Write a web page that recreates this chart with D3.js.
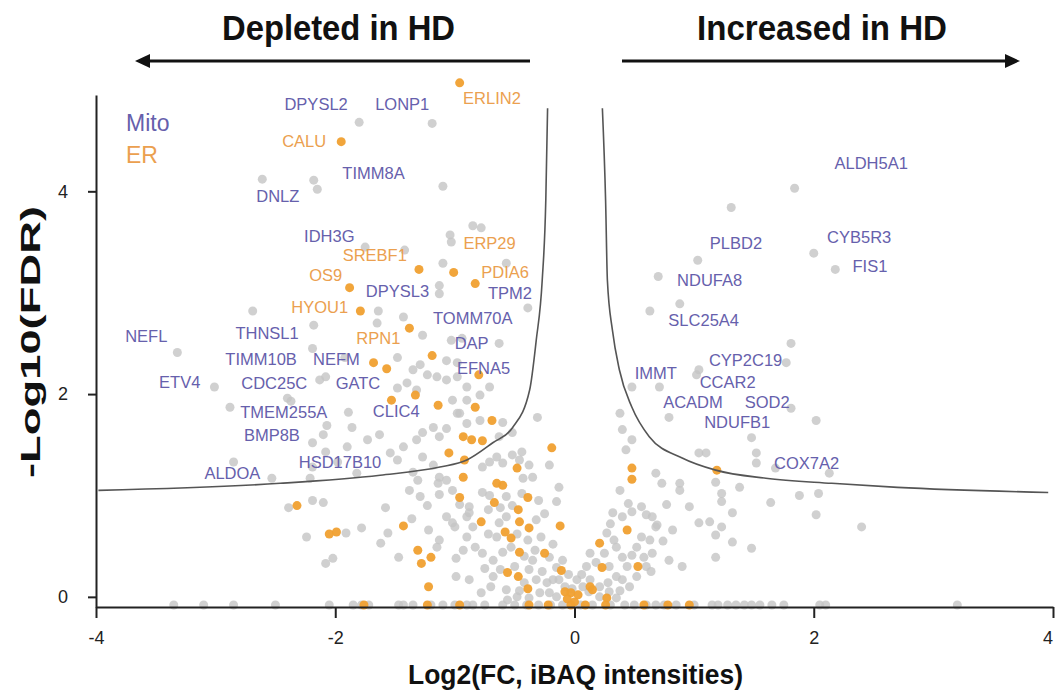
<!DOCTYPE html>
<html>
<head>
<meta charset="utf-8">
<script src="https://cdn.jsdelivr.net/npm/d3@7"></script>
<style>
  body { margin: 0; background: #fff; }
  text { font-family: "Liberation Sans", Arial, sans-serif; }
</style>
</head>
<body>
<div id="chart"></div>
<script>
// ---- data (log2 FC, -log10 FDR) ----
var xTicks = [-4, -2, 0, 2, 4];
var yTicks = [0, 2, 4];

// proteins not in the two highlighted groups
var grayPts = [
  [-1.80,4.68],[-1.19,4.67],[-1.10,4.05],[-2.61,4.12],[-2.18,4.11],[-2.15,4.02],
  [-0.85,3.66],[-0.78,3.64],[-1.04,3.57],[-1.03,3.50],[-1.10,3.29],[-0.57,3.29],
  [-1.42,3.42],[-1.75,3.45],[-1.13,3.07],[-0.39,2.85],[-1.13,2.99],[-1.64,2.82],
  [-1.43,2.76],[-1.65,2.70],[-2.69,2.82],[-2.18,2.68],[-1.27,2.58],[-1.03,2.53],
  [-0.94,2.55],[-0.63,2.50],[-2.19,2.45],[-1.48,2.36],[-1.92,2.36],[-1.07,2.33],
  [-0.98,2.31],[-1.29,2.29],[-1.35,2.24],[-2.08,2.17],[-2.13,2.14],[-1.23,2.19],
  [-1.15,2.17],[-1.07,2.14],[-0.98,2.17],[-1.48,2.06],[-1.40,2.11],[-1.32,2.04],
  [-0.90,2.07],[-0.79,1.99],[-0.71,2.07],[-1.02,1.94],[-0.96,1.81],[-1.89,1.82],
  [-2.40,1.96],[-2.37,1.93],[-2.88,1.87],[-3.01,2.07],[-3.32,2.41],[-2.07,1.69],
  [-1.86,1.67],[-2.10,1.60],[-1.63,1.60],[-1.73,1.55],[-2.19,1.52],[-2.08,1.43],
  [-1.90,1.48],[-1.32,1.55],[-1.27,1.62],[-1.18,1.67],[-1.13,1.58],[-1.07,1.66],
  [-1.43,1.48],[-1.54,1.42],[-1.98,1.33],[-2.19,1.28],[-1.82,1.22],[-1.48,1.35],
  [-1.27,1.38],[-1.18,1.30],[-1.13,1.18],[-1.07,1.15],[-1.35,1.23],[-1.31,1.15],
  [-0.90,1.71],[-0.79,1.74],[-0.52,1.62],[-0.63,1.58],[-0.31,1.77],[-2.85,1.33],
  [-2.21,1.17],[-2.53,1.17],[-0.90,1.94],[-0.98,1.81],[-0.60,1.72],
  [-0.65,1.38],[-0.71,1.33],[-0.60,1.32],[-0.77,1.28],[-0.44,1.43],[-0.52,1.40],
  [-0.46,1.35],[-0.38,1.30],[-0.35,1.18],[-0.43,1.17],[-0.21,1.30],[-0.13,1.08],
  [-0.15,0.94],[-1.02,1.05],[-0.96,0.91],[-0.88,0.89],[-0.90,0.79],[-0.77,1.03],
  [-0.71,1.00],[-0.57,0.99],[-1.00,0.69],[-0.90,0.59],[-0.83,0.49],[-0.77,0.43],
  [-0.68,0.36],[-0.93,0.46],[-0.65,0.59],[-0.63,0.73],[-0.57,0.79],[-0.53,0.49],
  [-0.39,0.56],[-0.32,0.76],[-0.28,0.59],[-0.21,0.39],[-0.35,0.36],[-0.27,0.25],
  [-0.15,0.29],[-0.18,0.17],[-0.23,0.14],[-0.32,0.17],[-0.68,0.20],[-0.57,0.07],
  [-0.50,0.30],[-0.42,0.14],[-0.88,0.17],[-0.78,0.04],[-0.13,0.17],[-0.08,0.10],
  [-0.21,0.04],[-0.15,0.00],[-0.29,0.04],[-0.38,-0.01],[-0.48,0.00],[-0.56,-0.03],
  [-2.39,0.88],[-2.19,0.95],[-2.10,0.93],[-2.24,0.59],[-1.91,0.63],[-1.78,0.68],
  [-2.08,0.33],[-2.02,0.38],[-1.62,0.53],[-1.56,0.63],[-1.58,0.88],[-1.47,0.39],
  [-1.36,0.77],[-1.38,1.05],[-1.29,0.99],[-1.23,0.90],[-1.22,0.66],[-1.14,1.12],
  [-1.13,1.01],[-1.13,0.56],[-1.15,0.49],[-0.99,0.38],[-0.99,0.20],[-1.07,0.79],
  [-1.02,0.73],[-0.88,0.83],[-0.85,0.69],
  [-0.72,0.86],[-0.62,0.88],[-0.52,0.90],[-0.44,1.02],[-0.30,0.95],[-0.25,0.82],
  [-0.72,0.62],[-0.60,0.44],[-0.48,0.62],[-0.42,0.40],[-0.33,0.46],[-0.18,0.52],
  [-0.75,0.28],[-0.62,0.27],[-0.38,0.27],[-0.10,0.36],[-0.05,0.22],[-0.70,0.10],
  [-0.46,0.06],[-0.02,0.08],[0.10,0.30],[0.25,0.43],[0.44,0.30],[0.58,0.39],
  [0.74,0.55],[0.82,0.66],[0.45,0.92],[0.30,0.72],[0.12,0.05],[0.38,0.06],
  [1.84,4.03],[1.31,3.84],[1.03,3.32],[2.00,3.39],[2.18,3.23],[0.70,3.16],
  [0.63,2.82],[0.88,2.89],[1.81,2.50],[1.77,2.31],[1.04,2.24],[1.02,2.19],
  [0.71,2.07],[1.81,1.86],[0.79,1.77],[2.02,1.74],[0.48,2.07],[0.38,1.81],
  [1.48,1.57],[0.40,1.65],[0.48,1.55],[0.43,1.45],[1.04,1.42],[1.10,1.42],
  [1.52,1.42],[1.52,1.32],[0.68,1.22],[0.73,1.12],[0.88,1.12],[0.88,1.05],
  [1.23,1.02],[0.38,1.05],[1.38,1.08],[1.88,1.00],[2.04,1.02],[1.68,1.27],
  [2.13,1.22],[1.18,1.13],[1.23,0.94],[1.64,0.93],[1.32,0.83],[2.02,0.81],
  [2.40,0.69],[1.13,0.74],[1.23,0.69],[1.18,0.61],[1.32,0.54],[1.48,0.48],
  [1.18,0.39],[0.68,0.69],[0.77,0.91],[0.96,0.89],[1.04,0.73],[0.32,0.83],
  [0.40,0.79],[0.48,0.84],[0.56,0.89],[0.60,0.81],[0.65,0.79],[0.69,0.71],
  [0.56,0.59],[0.52,0.49],[0.63,0.56],[0.65,0.43],[0.60,0.30],[0.64,0.25],
  [0.27,0.63],[0.33,0.56],[0.35,0.49],[0.40,0.39],[0.48,0.41],[0.13,0.43],
  [0.18,0.34],[0.29,0.30],[0.35,0.20],[0.40,0.17],[0.28,0.14],[0.21,0.10],
  [0.13,0.17],[0.02,0.17],[0.07,0.10],[0.06,0.22],[0.29,0.05],[0.21,0.00],
  [0.35,-0.01],[0.52,0.20],[0.46,0.10],[0.79,0.36],[0.90,0.30]
];

// ER proteins
var erPts = [
  [-0.96,5.07],[-1.95,4.49],[-1.88,3.05],[-1.30,3.23],[-1.01,3.20],[-0.83,3.09],
  [-1.79,2.82],[-1.38,2.65],[-1.68,2.31],[-1.57,2.25],[-1.19,2.38],[-0.80,2.19],
  [-1.53,1.94],[-1.33,1.99],[-1.14,1.89],[-0.83,1.87],[-0.69,1.74],[-0.93,1.58],
  [-0.86,1.55],[-0.77,1.54],[-1.05,1.42],[-0.92,1.35],[-0.48,1.27],[-0.19,1.47],
  [-0.93,1.18],[-0.65,1.12],[-0.60,1.10],[-2.32,0.90],[-2.05,0.62],[-1.99,0.64],
  [-1.43,0.70],[-1.31,0.46],[-1.20,0.39],[-1.28,0.33],[-1.22,0.10],[-0.96,0.98],
  [-0.78,0.74],[-0.67,0.93],[-0.39,0.98],[-0.47,0.86],[-0.12,0.70],[-0.46,0.74],
  [-0.38,0.68],[-0.58,0.64],[-0.53,0.58],[-0.46,0.44],[-0.25,0.43],[0.48,1.27],
  [0.48,1.16],[1.19,1.25],[0.44,0.66],[0.21,0.53],[0.53,0.30],[0.23,0.29],
  [-0.11,0.26],[-0.56,0.24],[-0.47,0.20],[-0.39,0.08],[-0.08,0.05],[-0.03,0.04],
  [0.03,0.02],[0.13,0.10],[0.15,0.07],[0.27,-0.01],[-0.06,-0.02],[0.00,-0.05]
];

// proteins sitting on the floor of the plot
var floorY = -0.08;
var floorGrayX = [-3.35,-3.1,-2.85,-2.5,-2.05,-1.85,-1.78,-1.72,-1.47,-1.43,-1.35,
  -1.2,-1.1,-1.0,-0.9,-0.85,-0.75,-0.6,-0.5,-0.4,-0.3,-0.2,-0.1,0.05,0.15,0.3,0.42,
  0.5,0.6,0.68,0.75,0.85,1.0,1.15,1.2,1.28,1.35,1.42,1.48,1.55,1.65,1.75,2.05,2.1,3.2];
var floorErX = [-1.76,-1.23,-0.96,-0.38,-0.22,-0.03,0.09,0.26,0.58,0.78,0.96];

// labels (text centre in data units)
var mitoNames = ["DPYSL2","LONP1","TIMM8A","DNLZ","IDH3G","DPYSL3","TPM2","TOMM70A","DAP",
  "EFNA5","NEFL","THNSL1","TIMM10B","NEFM","ETV4","CDC25C","GATC","TMEM255A","CLIC4",
  "BMP8B","HSD17B10","ALDOA","ALDH5A1","PLBD2","CYB5R3","FIS1","NDUFA8","SLC25A4",
  "IMMT","CYP2C19","CCAR2","ACADM","SOD2","NDUFB1","COX7A2"];
var mitoLX = [-2.16,-1.44,-1.68,-2.48,-2.05,-1.48,-0.54,-0.85,-0.86,
  -0.76,-3.58,-2.57,-2.62,-1.99,-3.30,-2.51,-1.81,-2.43,-1.49,
  -2.53,-1.96,-2.86,2.48,1.35,2.38,2.47,1.13,1.08,
  0.68,1.43,1.28,0.99,1.61,1.36,1.94];
var mitoLY = [4.86,4.86,4.18,3.95,3.56,3.02,3.00,2.75,2.50,
  2.26,2.57,2.60,2.35,2.35,2.12,2.11,2.11,1.82,1.83,
  1.60,1.33,1.22,4.28,3.49,3.55,3.26,3.13,2.73,
  2.21,2.34,2.12,1.92,1.92,1.72,1.32];

var erNames = ["ERLIN2","CALU","SREBF1","OS9","ERP29","PDIA6","HYOU1","RPN1"];
var erLX = [-0.69,-2.26,-1.67,-2.08,-0.71,-0.58,-2.13,-1.64];
var erLY = [4.92,4.50,3.37,3.17,3.49,3.20,2.86,2.55];

// significance cut-off curves
var leftCurve = [[-3.98,1.05],[-2.46,1.12],[-1.625,1.20],[-1.125,1.28],[-0.9,1.35],
  [-0.683,1.52],[-0.517,1.67],[-0.375,2.04],[-0.32,2.53],[-0.27,3.12],[-0.24,3.91],[-0.225,4.82]];
var rightCurve = [[0.233,4.82],[0.26,3.91],[0.275,3.12],[0.317,2.63],[0.375,2.24],
  [0.48,1.87],[0.625,1.58],[0.9,1.37],[1.18,1.25],[1.6,1.17],[2.15,1.12],[2.7,1.08],[3.96,1.03]];

// ---- drawing ----
var width = 1057, height = 693;
var gray = "#c4c4c4", orange = "#f0a030";
var purpleText = "#6660ac", orangeText = "#eba04f";

var svg = d3.select("#chart").append("svg")
  .attr("width", width).attr("height", height)
  .style("background", "#fff");

var x = d3.scaleLinear().domain([-4, 4]).range([96, 1053]);
var y = d3.scaleLinear().domain([-0.1, 4.95]).range([607, 95]);

// points
svg.append("g").selectAll("circle").data(grayPts).join("circle")
  .attr("cx", function(d) { return x(d[0]); })
  .attr("cy", function(d) { return y(d[1]); })
  .attr("r", 4.5).attr("fill", gray).attr("fill-opacity", 0.8);

svg.append("g").selectAll("circle").data(floorGrayX).join("circle")
  .attr("cx", function(d) { return x(d); })
  .attr("cy", y(floorY))
  .attr("r", 4.5).attr("fill", gray).attr("fill-opacity", 0.8);

svg.append("g").selectAll("circle").data(erPts).join("circle")
  .attr("cx", function(d) { return x(d[0]); })
  .attr("cy", function(d) { return y(d[1]); })
  .attr("r", 4.5).attr("fill", orange).attr("fill-opacity", 0.95);

svg.append("g").selectAll("circle").data(floorErX).join("circle")
  .attr("cx", function(d) { return x(d); })
  .attr("cy", y(floorY))
  .attr("r", 4.5).attr("fill", orange).attr("fill-opacity", 0.95);

// cut-off curves
var line = d3.line()
  .x(function(d) { return x(d[0]); })
  .y(function(d) { return y(d[1]); })
  .curve(d3.curveMonotoneX);

[leftCurve, rightCurve].forEach(function(c) {
  svg.append("path").attr("d", line(c))
    .attr("fill", "none").attr("stroke", "#555").attr("stroke-width", 1.6);
});

// axes, plain hyphen minus like the original
var plain = function(d) { return String(d); };
var xAxis = svg.append("g").attr("transform", "translate(0,607)")
  .call(d3.axisBottom(x).tickValues(xTicks).tickSize(11).tickSizeOuter(0)
    .tickFormat(plain).tickPadding(13));
var yAxis = svg.append("g").attr("transform", "translate(96,0)")
  .call(d3.axisLeft(y).tickValues(yTicks).tickSize(8).tickSizeOuter(0)
    .tickFormat(plain).tickPadding(20));

[xAxis, yAxis].forEach(function(a) {
  a.select(".domain").attr("stroke", "#222").attr("stroke-width", 2);
  a.selectAll(".tick line").attr("stroke", "#222").attr("stroke-width", 2);
  a.selectAll(".tick text").attr("fill", "#222")
    .style("font-family", "'Liberation Sans', Arial, sans-serif").style("font-size", "18px");
});
// the last x label hugs the right edge
xAxis.selectAll(".tick text").filter(function(d) { return d === 4; }).attr("dx", "-0.3em");

// labels
svg.append("g").selectAll("text").data(mitoNames).join("text")
  .attr("x", function(d, i) { return x(mitoLX[i]); })
  .attr("y", function(d, i) { return y(mitoLY[i]); })
  .attr("text-anchor", "middle").attr("dominant-baseline", "central")
  .attr("fill", purpleText).style("font-size", "16.5px")
  .text(function(d) { return d; });

svg.append("g").selectAll("text").data(erNames).join("text")
  .attr("x", function(d, i) { return x(erLX[i]); })
  .attr("y", function(d, i) { return y(erLY[i]); })
  .attr("text-anchor", "middle").attr("dominant-baseline", "central")
  .attr("fill", orangeText).style("font-size", "16.5px")
  .text(function(d) { return d; });

// legend
svg.append("text").attr("x", 126).attr("y", 131).attr("fill", purpleText)
  .style("font-size", "23px").text("Mito");
svg.append("text").attr("x", 126).attr("y", 163).attr("fill", orangeText)
  .style("font-size", "23px").text("ER");

// direction arrows and titles
function arrow(x1, x2, yy) {
  var dir = x2 > x1 ? 1 : -1;
  svg.append("line").attr("x1", x1).attr("x2", x2 - dir * 10).attr("y1", yy).attr("y2", yy)
    .attr("stroke", "#111").attr("stroke-width", 3);
  svg.append("path")
    .attr("d", "M" + x2 + "," + yy + "L" + (x2 - dir * 15) + "," + (yy - 7) +
      "L" + (x2 - dir * 15) + "," + (yy + 7) + "Z")
    .attr("fill", "#111");
}
arrow(530, 135, 61);
arrow(622, 1020, 61);

svg.append("text").attr("x", 222).attr("y", 40)
  .attr("textLength", 233).attr("lengthAdjust", "spacingAndGlyphs")
  .style("font-size", "35px").style("font-weight", "bold").attr("fill", "#111")
  .text("Depleted in HD");
svg.append("text").attr("x", 697).attr("y", 40)
  .attr("textLength", 250).attr("lengthAdjust", "spacingAndGlyphs")
  .style("font-size", "35px").style("font-weight", "bold").attr("fill", "#111")
  .text("Increased in HD");

svg.append("text").attr("x", 408).attr("y", 684)
  .attr("textLength", 335).attr("lengthAdjust", "spacingAndGlyphs")
  .style("font-size", "28px").style("font-weight", "bold").attr("fill", "#111")
  .text("Log2(FC, iBAQ intensities)");

svg.append("text")
  .attr("transform", "translate(40,478) rotate(-90)")
  .attr("textLength", 272).attr("lengthAdjust", "spacingAndGlyphs")
  .style("font-size", "27px").style("font-weight", "bold").attr("fill", "#111")
  .text("-Log10(FDR)");
</script>
</body>
</html>
